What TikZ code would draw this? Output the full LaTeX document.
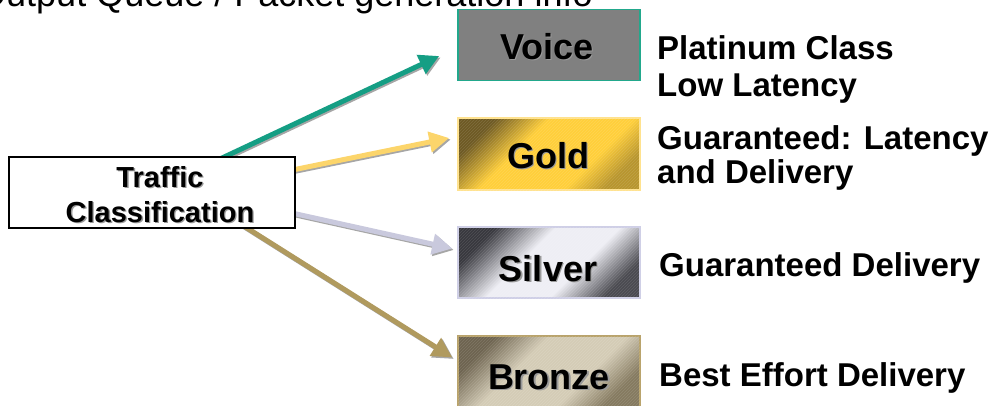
\documentclass[tikz,border=0pt]{standalone}
\usepackage{fontspec}
\setmainfont{Liberation Sans}
\usetikzlibrary{arrows.meta,calc,patterns}
\pgfdeclarelayer{background}
\pgfsetlayers{background,main}
\definecolor{tealA}{HTML}{159E84}
\definecolor{goldA}{HTML}{FCD56B}
\definecolor{silvA}{HTML}{C9C9DD}
\definecolor{bronA}{HTML}{B09A5E}
\definecolor{voiceF}{HTML}{808080}
\definecolor{voiceB}{HTML}{22A88C}
\definecolor{goldD}{HTML}{6E5A24}
\definecolor{goldM}{HTML}{B8952E}
\definecolor{goldL}{HTML}{FFCF3A}
\definecolor{goldB}{HTML}{FFE28E}
\definecolor{silvD}{HTML}{38383E}
\definecolor{silvM}{HTML}{4A4A50}
\definecolor{silvL}{HTML}{EEEEF4}
\definecolor{silvB}{HTML}{CFCFE6}
\definecolor{bronD}{HTML}{6E6450}
\definecolor{bronM}{HTML}{857A60}
\definecolor{bronL}{HTML}{D4CCB6}
\definecolor{bronB}{HTML}{B9A36C}
\pgfdeclareverticalshading{goldsh}{100bp}{color(0bp)=(goldM); color(25bp)=(goldM); color(36bp)=(goldL); color(60bp)=(goldL); color(75bp)=(goldD); color(100bp)=(goldD)}
\pgfdeclareverticalshading{silvsh}{100bp}{color(0bp)=(silvM); color(25bp)=(silvM); color(40bp)=(silvL); color(58bp)=(silvL); color(75bp)=(silvD); color(100bp)=(silvD)}
\pgfdeclareverticalshading{bronsh}{100bp}{color(0bp)=(bronM); color(25bp)=(bronM); color(38bp)=(bronL); color(60bp)=(bronL); color(75bp)=(bronD); color(100bp)=(bronD)}
\newcommand\shd[1]{\leavevmode\rlap{\kern1.3pt\raisebox{-1.3pt}{\textcolor{black!40}{#1}}}#1}
\tikzset{
  classbox/.style={draw, line width=1.5pt, minimum width=182pt, minimum height=71pt, inner sep=0pt},
  stripes/.style={postaction={pattern=north east lines, pattern color=white, opacity=0.12}},
  boxlabel/.style={font=\bfseries\fontsize{36}{40}\selectfont, anchor=base, inner sep=0pt},
  desc/.style={font=\bfseries\fontsize{33}{37}\selectfont, anchor=base west, inner sep=0pt},
  tclabel/.style={font=\bfseries\fontsize{29}{35}\selectfont, anchor=base, inner sep=0pt},
  arr/.style={line width=5pt, -{Triangle[length=20pt,width=20pt]}},
  arrshadow/.style={arr, draw=black!35, transform canvas={shift={(1.5pt,-1.5pt)}}}
}
\begin{document}
\begin{tikzpicture}[x=1pt,y=-1pt]
\useasboundingbox (0,0) rectangle (990,405);
\clip (0,0) rectangle (990,405);

% clipped title line
\node[anchor=base west, inner sep=0pt, font=\fontsize{36}{40}\selectfont] (title) at (-22,6) {Output Queue / Packet generation info};

% traffic classification box
\node[draw=black, line width=1.2pt, fill=white, minimum width=286pt, minimum height=71pt, inner sep=0pt] (tc) at (152,192.5) {};
\node[tclabel] (tc1) at (160,187) {\shd{Traffic}};
\node[tclabel] (tc2) at (160,222) {\shd{Classification}};

% class boxes
\node[classbox, draw=voiceB, fill=voiceF] (voice) at (549,45) {};
\node[classbox, draw=goldB, shading=goldsh, shading angle=45, stripes, minimum height=72pt] (gold) at (549,154) {};
\node[classbox, draw=silvB, shading=silvsh, shading angle=45, stripes] (silver) at (549,262.5) {};
\node[classbox, draw=bronB, shading=bronsh, shading angle=45, stripes] (bronze) at (549,371.5) {};

\node[boxlabel] (voicet) at (547,59) {\shd{Voice}};
\node[boxlabel] (goldt) at (548,168) {\shd{Gold}};
\node[boxlabel] (silvert) at (548,281) {\shd{Silver}};
\node[boxlabel] (bronzet) at (549,389) {\shd{Bronze}};

% descriptions
\node[desc] (d1a) at (657,59) {Platinum Class};
\node[desc] (d1b) at (657,96) {Low Latency};
\node[desc] (d2a) at (657,149) {Guaranteed: Latency};
\node[desc] (d2b) at (657,183) {and Delivery};
\node[desc] (d3) at (659,276) {Guaranteed Delivery};
\node[desc] (d4) at (659,386) {Best Effort Delivery};

% arrows
\coordinate (s1) at ($(tc.north west)+(200,8)$);
\coordinate (e1) at ($(voice.west)+(-18,11)$);
\coordinate (s2) at ($(tc.north east)+(-10,15)$);
\coordinate (e2) at ($(gold.west)+(-8,-16)$);
\coordinate (s3) at ($(tc.south east)+(-10,-17)$);
\coordinate (e3) at ($(silver.west)+(-5,-14)$);
\coordinate (s4) at ($(tc.south west)+(230,-6)$);
\coordinate (e4) at ($(bronze.west)+(-5,-14)$);
\begin{pgfonlayer}{background}
\draw[arrshadow] (s1) -- (e1);
\draw[arrshadow] (s2) -- (e2);
\draw[arrshadow] (s3) -- (e3);
\draw[arrshadow] (s4) -- (e4);
\draw[arr, draw=tealA, fill=tealA] (s1) -- (e1);
\draw[arr, draw=goldA, fill=goldA] (s2) -- (e2);
\draw[arr, draw=silvA, fill=silvA] (s3) -- (e3);
\draw[arr, draw=bronA, fill=bronA] (s4) -- (e4);
\end{pgfonlayer}
\end{tikzpicture}
\end{document}
